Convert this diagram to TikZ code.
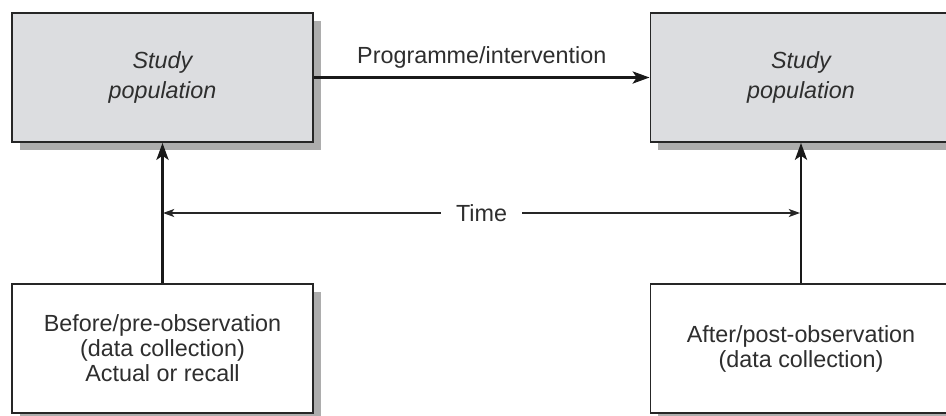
\documentclass[tikz,border=0pt]{standalone}
\usepackage{fontspec}
\setmainfont{Liberation Sans}
\usetikzlibrary{arrows.meta,shadows}
\definecolor{popfill}{HTML}{DCDDE0}
\begin{document}
\begin{tikzpicture}[x=0.025cm,y=-0.025cm,
  box/.style={draw=black!85, line width=1.3pt, minimum width=7.525cm,
    minimum height=3.225cm, align=center, text=black!82, inner sep=0pt,
    drop shadow={shadow xshift=0.2cm, shadow yshift=-0.2cm, fill=black!32, opacity=1}},
  popbox/.style={box, fill=popfill, font=\fontsize{16.6}{21.3}\selectfont\itshape},
  obsbox/.style={box, fill=white, font=\fontsize{16.6}{17.8}\selectfont},
  bigarrow/.style={line width=2.1pt, draw=black!90, -{Stealth[length=0.42cm, width=0.3cm, inset=0.1cm]}},
  timearrow/.style={line width=1pt, draw=black!85, {Stealth[length=0.28cm, width=0.2cm, inset=0.07cm]}-{Stealth[length=0.28cm, width=0.2cm, inset=0.07cm]}},
  lbl/.style={text=black!82, font=\fontsize{16.6}{20}\selectfont}
]
\useasboundingbox (0,0) rectangle (946,415);
\clip (0,0) rectangle (946,415);
\fill[white] (0,0) rectangle (946,415);
\node[popbox] (A) at (162.5,77.5) {Study\\population};
\node[popbox] (B) at (801,77.5) {Study\\population};
\node[obsbox] (C) at (162.5,348.5) {Before/pre-observation\\(data collection)\\Actual or recall};
\node[obsbox] (D) at (801,348.5) {After/post-observation\\(data collection)};
\draw[bigarrow] (A.east) -- node[lbl, midway, above, inner sep=0pt, yshift=0.19cm] (P) {Programme/intervention} (B.west);
\draw[bigarrow] (C.north) -- (A.south);
\draw[bigarrow] (D.north) -- (B.south);
\coordinate (TL) at (163,213);
\coordinate (TR) at (800,213);
\draw[timearrow] (TL) -- node[lbl, midway, fill=white, inner xsep=0.38cm, inner ysep=0pt] (T) {Time} (TR);
\end{tikzpicture}
\end{document}
